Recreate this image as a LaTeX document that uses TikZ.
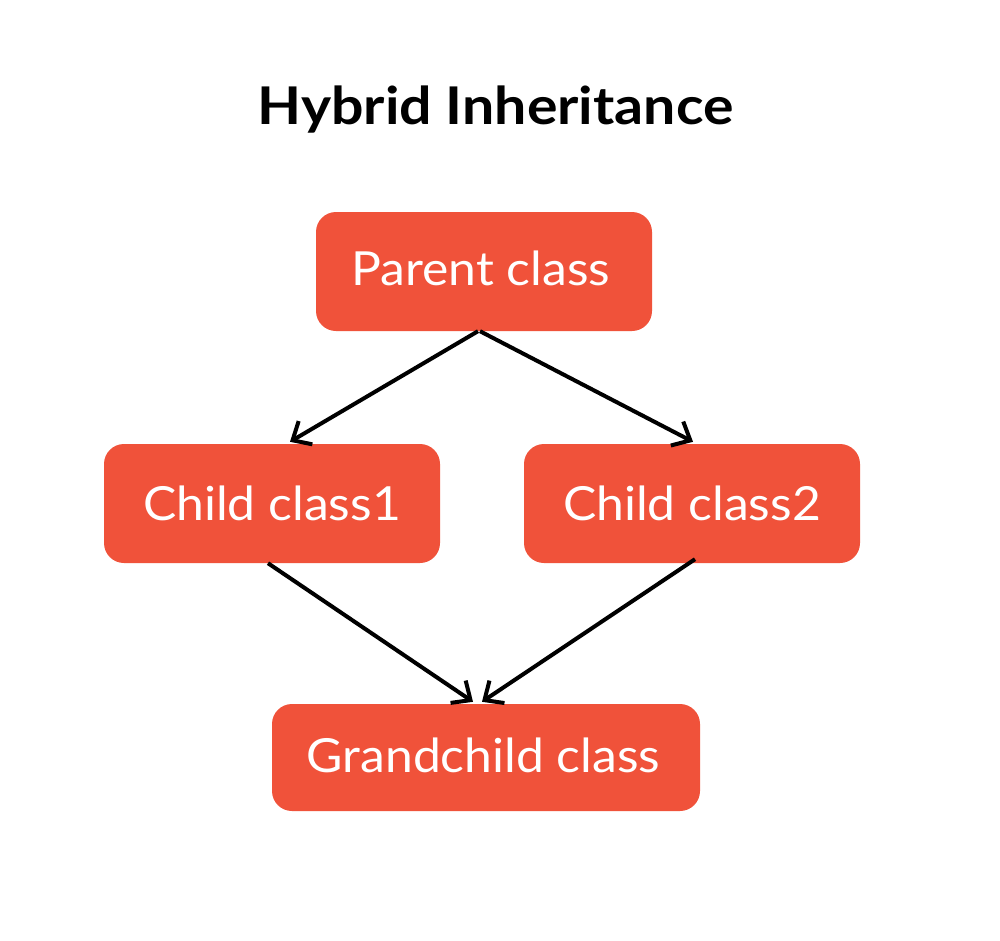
\documentclass[tikz,border=0pt]{standalone}
\usepackage{fontspec}
\setmainfont{Lato}
\newfontfamily\bodyfont[FakeStretch=1.06]{Lato}
\newfontfamily\titlefont[FakeStretch=1.10]{Lato}
\usetikzlibrary{arrows.meta}
\definecolor{boxred}{RGB}{240,82,58}
\tikzset{
  classbox/.style={fill=boxred, rounded corners=20pt, inner sep=0pt},
  classtext/.style={text=white, font=\bodyfont\fontsize{47}{50}\selectfont, anchor=base},
  link/.style={line width=4pt, -{Straight Barb[length=15pt, width=27pt, line width=4pt]}},
}
\begin{document}
\begin{tikzpicture}[x=1pt, y=-1pt]
\useasboundingbox[fill=white] (0,0) rectangle (1000,940);
\node[font=\titlefont\bfseries\fontsize{52}{56}\selectfont, anchor=base] (title) at (495.5,124) {Hybrid Inheritance};
\node[classbox, minimum width=336pt, minimum height=119pt] (parent) at (484,271.5) {};
\node[classtext] (parentt) at (481,285) {Parent class};
\node[classbox, minimum width=336pt, minimum height=119pt] (child1) at (272,503.5) {};
\node[classtext] (child1t) at (272,520) {Child class1};
\node[classbox, minimum width=336pt, minimum height=119pt] (child2) at (692,503.5) {};
\node[classtext] (child2t) at (692,520) {Child class2};
\node[classbox, minimum width=428pt, minimum height=107pt] (grand) at (486,757.5) {};
\node[classtext] (grandt) at (483.5,772) {Grandchild class};
\draw[link] ([xshift=-6pt]parent.south) -- ([xshift=18pt,yshift=2pt]child1.north);
\draw[link] ([xshift=-4pt]parent.south) -- ([xshift=1pt,yshift=2pt]child2.north);
\draw[link] ([xshift=-4pt]child1.south) -- ([xshift=-13pt,yshift=2pt]grand.north);
\draw[link] ([xshift=3pt,yshift=4pt]child2.south) -- ([xshift=-4pt,yshift=2pt]grand.north);
\end{tikzpicture}
\end{document}
